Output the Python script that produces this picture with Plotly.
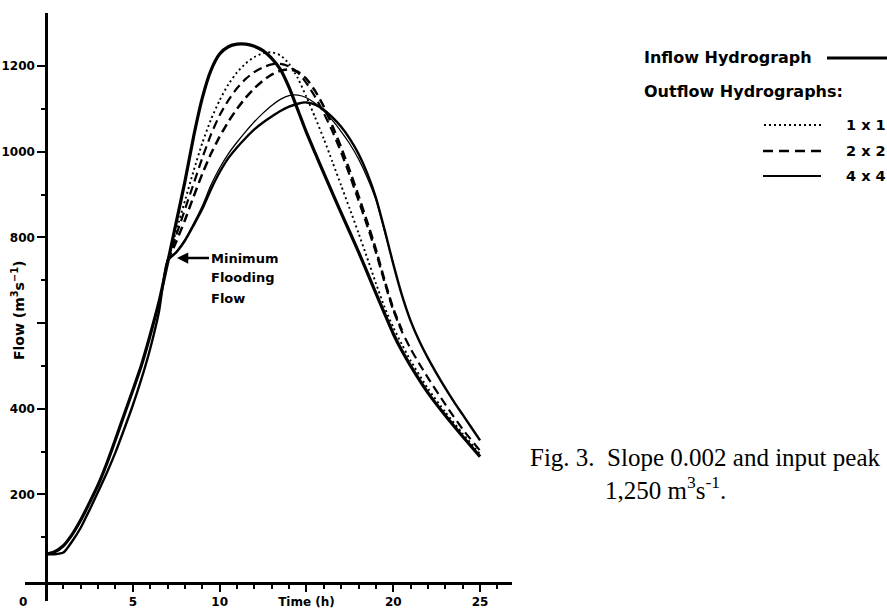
import plotly.graph_objects as go

# ---------------- data ----------------
inflow_t = [0, 0.5, 1, 1.5, 2, 2.5, 3, 3.5, 4, 4.5, 5, 5.5, 6, 6.5, 7, 7.5, 8, 8.5, 9, 9.5,
            10, 10.5, 11, 11.5, 12, 12.5, 13, 13.5, 14, 14.5, 15, 15.5, 16, 16.5, 17, 17.5,
            18, 18.5, 19, 19.5, 20, 20.5, 21, 22, 23, 24, 25]
inflow_q = [60, 66, 80, 106, 140, 180, 222, 272, 328, 386, 443, 502, 572, 648, 740, 835, 930, 1035, 1125, 1190,
            1228, 1245, 1251, 1251, 1246, 1236, 1218, 1192, 1150, 1098, 1045, 997, 950, 903, 857, 812,
            766, 718, 670, 622, 575, 535, 500, 437, 384, 335, 288]

# outflow 4x4 (thicker line), includes the common rising limb below minimum flooding flow
out4b_t = [0, 0.5, 1, 1.5, 2, 2.5, 3, 3.5, 4, 4.5, 5, 5.5, 6, 6.5, 7,
           7.5, 8, 8.5, 9, 9.5, 10, 10.5, 11, 11.5, 12, 12.5, 13, 13.5, 14, 14.5, 15, 15.5, 16,
           16.5, 17, 17.5, 18, 18.5, 19, 19.5, 20, 20.5, 21, 21.5, 22, 22.5, 23, 23.5, 24, 24.5, 25]
out4b_q = [60, 60, 64, 90, 122, 163, 206, 250, 298, 352, 408, 470, 540, 625, 745,
           765, 792, 828, 866, 912, 952, 985, 1010, 1032, 1052, 1068, 1082, 1095, 1105, 1112, 1115, 1110, 1098,
           1080, 1058, 1030, 995, 950, 893, 818, 738, 665, 605, 558, 518, 482, 448, 416, 386, 356, 326]

# outflow 4x4 (thin line)
out4a_t = [7, 7.5, 8, 8.5, 9, 9.5, 10, 10.5, 11, 11.5, 12, 12.5, 13, 13.5, 14, 14.5, 15, 15.5,
           16, 16.5, 17, 17.5, 18, 18.5, 19, 19.5, 20]
out4a_q = [745, 766, 795, 832, 873, 922, 962, 995, 1022, 1047, 1070, 1090, 1108, 1122, 1131, 1132, 1126, 1113,
           1095, 1073, 1047, 1018, 983, 940, 888, 815, 738]

# outflow 1x1 (dotted)
out1_t = [7, 7.5, 8, 8.5, 9, 9.5, 10, 10.5, 11, 11.5, 12, 12.5, 13, 13.5, 14, 14.5, 15, 15.5, 16,
          16.5, 17, 17.5, 18, 18.5, 19, 19.5, 20, 20.5, 21, 22, 23, 24, 25]
out1_q = [745, 815, 885, 955, 1020, 1075, 1120, 1157, 1185, 1206, 1221, 1230, 1232, 1225, 1205, 1172, 1128, 1080, 1030,
          976, 921, 866, 810, 752, 693, 637, 590, 550, 512, 447, 392, 342, 294]

# outflow 2x2 (dashed, two curves)
out2a_t = [7, 7.5, 8, 8.5, 9, 9.5, 10, 10.5, 11, 11.5, 12, 12.5, 13, 13.5, 14, 14.5, 15, 15.5, 16,
           16.5, 17, 17.5, 18, 18.5, 19, 19.5, 20, 20.5, 21, 21.5, 22, 23, 24, 25]
out2a_q = [745, 805, 865, 925, 985, 1040, 1085, 1120, 1148, 1170, 1186, 1197, 1204, 1205, 1199, 1185, 1160, 1128, 1090,
           1047, 998, 944, 886, 827, 765, 695, 630, 580, 540, 505, 472, 410, 352, 302]
out2b_t = [7, 7.5, 8, 8.5, 9, 9.5, 10, 10.5, 11, 11.5, 12, 12.5, 13, 13.5, 14, 14.5, 15, 15.5, 16,
           16.5, 17, 17.5, 18, 18.5, 19, 19.5, 20, 20.5]
out2b_q = [745, 790, 840, 895, 948, 995, 1035, 1070, 1100, 1126, 1148, 1166, 1180, 1189, 1192, 1187, 1170, 1142, 1105,
           1060, 1010, 955, 897, 836, 772, 700, 634, 583]

x_tick_vals = [5, 10, 15, 20, 25]
x_tick_text = ["5", "10", "Time (h)", "20", "25"]
x_minor_vals = [1, 2, 3, 4, 6, 7, 8, 9, 11, 12, 13, 14, 16, 17, 18, 19, 21, 22, 23, 24, 26]
y_tick_vals = [200, 400, 600, 800, 1000, 1200]
y_tick_text = ["200", "400", " ", "800", "1000", "1200"]
y_minor_vals = [100, 300, 500, 700, 900, 1100]

legend_labels = ["1 x 1", "2 x 2", "4 x 4"]

# ---------------- figure ----------------
W, H = 887, 612


def px(x):
    return x / W


def py(y):
    return 1 - y / H


BOLD = dict(family="DejaVu Sans", color="black", weight="bold")
fig = go.Figure()


def add_line(t, q, width, dash="solid"):
    fig.add_trace(go.Scatter(x=t, y=q, mode="lines",
                             line=dict(color="black", width=width, dash=dash, shape="spline", smoothing=0.6),
                             hoverinfo="skip", showlegend=False))


add_line(out4b_t, out4b_q, 2.4)
add_line(out4a_t, out4a_q, 1.3)
add_line(out2b_t, out2b_q, 2.5, "9px,5px")
add_line(out2a_t, out2a_q, 2.2, "9px,5px")
add_line(out1_t, out1_q, 1.9, "2px,3px")
add_line(inflow_t, inflow_q, 3.2)

fig.update_layout(
    width=W, height=H, autosize=False,
    margin=dict(l=0, r=0, t=0, b=0),
    paper_bgcolor="white", plot_bgcolor="white",
    showlegend=False,
    xaxis=dict(domain=[px(25), px(512)], range=[-1.21, 26.84], anchor="free", position=py(583),
               showline=True, linecolor="black", linewidth=2.5,
               ticks="outside", ticklen=7, tickwidth=2, tickcolor="black",
               tickmode="array", tickvals=x_tick_vals, ticktext=x_tick_text,
               tickfont=dict(size=12, **BOLD),
               minor=dict(tickmode="array", tickvals=x_minor_vals, ticks="outside",
                          ticklen=4, tickwidth=1.5, tickcolor="black", showgrid=False),
               showgrid=False, zeroline=False),
    yaxis=dict(domain=[py(601), py(13)], range=[-49, 1323.8], anchor="free", position=px(46),
               showline=True, linecolor="black", linewidth=2.5,
               ticks="outside", ticklen=8, tickwidth=2, tickcolor="black",
               tickmode="array", tickvals=y_tick_vals, ticktext=y_tick_text,
               tickfont=dict(size=12, **BOLD),
               minor=dict(tickmode="array", tickvals=y_minor_vals, ticks="outside",
                          ticklen=4, tickwidth=1.5, tickcolor="black", showgrid=False),
               showgrid=False, zeroline=False),
)


def text_at(x, y, text, size, xanchor="left", family=None, angle=0):
    f = dict(size=size, **BOLD) if family is None else dict(family=family, size=size, color="black")
    return dict(x=px(x), y=py(y), xref="paper", yref="paper", text=text, showarrow=False,
                xanchor=xanchor, yanchor="middle", textangle=angle, font=f)


ann = []
ann.append(text_at(23, 602, "0", 12, xanchor="center"))
ann.append(text_at(18, 311, "Flow (m<sup>3</sup>s<sup>−1</sup>)", 14, xanchor="center", angle=-90))
# Minimum flooding flow note with arrow
ann.append(dict(x=px(177), y=py(258), xref="paper", yref="paper", text="Minimum",
                showarrow=True, ax=32, ay=0, xanchor="left", yanchor="middle", arrowhead=2, arrowsize=0.9,
                arrowwidth=2.5, arrowcolor="black", font=dict(size=13, **BOLD)))
ann.append(text_at(209, 278, "Flooding", 13))
ann.append(text_at(209, 298, "Flow", 13))
# legend block
ann.append(text_at(642, 57, "Inflow Hydrograph", 16))
ann.append(text_at(642, 91, "Outflow Hydrographs:", 16))
leg_y = [125, 151, 176]
for lab, yy in zip(legend_labels, leg_y):
    ann.append(text_at(844, yy, lab, 14.5))
# caption
ann.append(text_at(528, 457, "Fig. 3.  Slope 0.002 and input peak", 25, family="Liberation Serif"))
ann.append(text_at(603, 488, "1,250 m<sup>3</sup>s<sup>-1</sup>.", 25, family="Liberation Serif"))
fig.update_layout(annotations=ann)

shapes = [
    dict(type="line", xref="paper", yref="paper", x0=px(827), x1=px(892), y0=py(58), y1=py(58),
         line=dict(color="black", width=3)),
    dict(type="line", xref="paper", yref="paper", x0=px(764), x1=px(823), y0=py(125), y1=py(125),
         line=dict(color="black", width=1.8, dash="2px,3px")),
    dict(type="line", xref="paper", yref="paper", x0=px(763), x1=px(821), y0=py(151), y1=py(151),
         line=dict(color="black", width=2.4, dash="10px,6px")),
    dict(type="line", xref="paper", yref="paper", x0=px(763), x1=px(821), y0=py(176), y1=py(176),
         line=dict(color="black", width=2)),
]
fig.update_layout(shapes=shapes)

fig.write_html("out.html", config={"displayModeBar": False},
               post_script="document.body.style.margin='0px';document.body.style.overflow='hidden';")
